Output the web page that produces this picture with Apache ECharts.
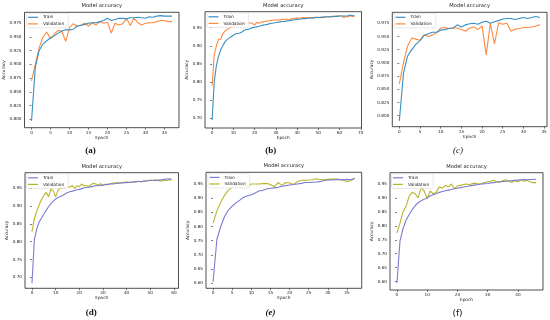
<!DOCTYPE html>
<html><head><meta charset="utf-8">
<script src="https://cdn.jsdelivr.net/npm/echarts@6/dist/echarts.min.js"></script>
<style>html,body{margin:0;padding:0;background:#fff}#c{width:550px;height:320px}</style>
</head><body><div id="c"></div>
<script>
// ---- data (epoch = array index) ----
const trainA=[0.797,0.895,0.925,0.937,0.943,0.948,0.952,0.957,0.961,0.963,0.963,0.964,0.970,0.971,0.973,0.975,0.976,0.976,0.978,0.980,0.984,0.980,0.982,0.984,0.984,0.983,0.985,0.985,0.986,0.985,0.984,0.987,0.986,0.988,0.989,0.988,0.988,0.988];
const valA=[0.870,0.900,0.930,0.950,0.959,0.947,0.955,0.962,0.960,0.942,0.967,0.974,0.970,0.972,0.975,0.970,0.976,0.972,0.978,0.975,0.977,0.957,0.975,0.972,0.974,0.984,0.971,0.984,0.976,0.972,0.975,0.976,0.976,0.978,0.980,0.980,0.978,0.978];
const trainB=[0.695,0.800,0.845,0.870,0.888,0.900,0.910,0.917,0.921,0.925,0.929,0.933,0.934,0.935,0.938,0.942,0.945,0.945,0.948,0.950,0.951,0.952,0.954,0.955,0.957,0.958,0.959,0.961,0.962,0.963,0.964,0.965,0.966,0.967,0.967,0.968,0.969,0.970,0.971,0.972,0.973,0.973,0.974,0.975,0.975,0.976,0.976,0.977,0.977,0.978,0.978,0.978,0.979,0.979,0.980,0.980,0.980,0.981,0.981,0.981,0.982,0.982,0.982,0.982,0.983,0.985,0.983,0.984];
const valB=[0.790,0.875,0.900,0.918,0.918,0.933,0.940,0.945,0.948,0.952,0.954,0.956,0.958,0.959,0.960,0.961,0.962,0.963,0.963,0.962,0.957,0.965,0.962,0.965,0.966,0.967,0.968,0.969,0.970,0.971,0.971,0.972,0.971,0.973,0.972,0.974,0.971,0.974,0.975,0.976,0.977,0.976,0.977,0.978,0.977,0.978,0.978,0.977,0.978,0.979,0.978,0.979,0.977,0.980,0.980,0.979,0.981,0.980,0.981,0.982,0.982,0.982,0.978,0.981,0.980,0.983,0.981,0.980];
const trainC=[0.790,0.880,0.913,0.925,0.935,0.942,0.952,0.955,0.958,0.958,0.962,0.963,0.965,0.966,0.972,0.968,0.972,0.974,0.975,0.973,0.977,0.979,0.975,0.978,0.980,0.983,0.984,0.984,0.982,0.984,0.986,0.984,0.986,0.988,0.986];
const valC=[0.860,0.900,0.932,0.947,0.945,0.943,0.953,0.950,0.953,0.957,0.966,0.967,0.965,0.966,0.966,0.963,0.960,0.966,0.968,0.963,0.970,0.915,0.975,0.936,0.976,0.973,0.975,0.960,0.964,0.965,0.967,0.967,0.968,0.970,0.972];
const trainD=[0.683,0.805,0.835,0.855,0.866,0.877,0.888,0.898,0.907,0.914,0.920,0.924,0.927,0.930,0.934,0.938,0.940,0.942,0.944,0.946,0.947,0.949,0.951,0.952,0.953,0.954,0.956,0.957,0.957,0.958,0.959,0.960,0.961,0.962,0.962,0.963,0.964,0.964,0.965,0.966,0.966,0.967,0.967,0.968,0.968,0.969,0.969,0.970,0.970,0.971,0.972,0.972,0.972,0.973,0.973,0.974,0.975,0.976,0.977,0.975];
const valD=[0.828,0.865,0.885,0.903,0.918,0.930,0.938,0.926,0.948,0.942,0.926,0.944,0.952,0.950,0.952,0.955,0.953,0.958,0.950,0.957,0.955,0.962,0.957,0.958,0.955,0.960,0.964,0.962,0.960,0.963,0.958,0.962,0.960,0.963,0.965,0.964,0.966,0.965,0.967,0.966,0.968,0.966,0.967,0.968,0.969,0.970,0.968,0.970,0.971,0.972,0.973,0.972,0.974,0.971,0.972,0.970,0.973,0.972,0.974,0.973];
const trainE=[0.605,0.755,0.800,0.835,0.858,0.872,0.883,0.893,0.903,0.908,0.912,0.918,0.925,0.928,0.932,0.935,0.936,0.938,0.942,0.944,0.946,0.948,0.950,0.952,0.955,0.955,0.956,0.957,0.958,0.962,0.964,0.964,0.965,0.965,0.965,0.966,0.965,0.970];
const valE=[0.812,0.855,0.885,0.910,0.928,0.938,0.942,0.945,0.945,0.942,0.950,0.950,0.950,0.951,0.952,0.948,0.940,0.955,0.945,0.955,0.953,0.948,0.958,0.963,0.963,0.964,0.965,0.968,0.965,0.965,0.966,0.967,0.967,0.966,0.963,0.958,0.962,0.968];
const trainF=[0.595,0.745,0.790,0.820,0.840,0.858,0.872,0.883,0.890,0.895,0.902,0.907,0.912,0.915,0.920,0.923,0.926,0.928,0.930,0.933,0.935,0.937,0.939,0.941,0.943,0.945,0.947,0.948,0.950,0.951,0.952,0.954,0.955,0.957,0.958,0.959,0.960,0.961,0.962,0.963,0.964,0.965,0.966,0.965,0.966,0.966,0.967];
const valF=[0.775,0.810,0.850,0.870,0.905,0.920,0.915,0.900,0.938,0.925,0.897,0.925,0.915,0.920,0.940,0.935,0.945,0.940,0.950,0.933,0.943,0.945,0.948,0.950,0.947,0.952,0.953,0.950,0.952,0.955,0.958,0.960,0.963,0.958,0.956,0.962,0.965,0.960,0.955,0.962,0.958,0.965,0.960,0.963,0.958,0.955,0.955];

// ---- tick labels ----
const xTicksA=[0,5,10,15,20,25,30,35];
const xTicksB=[0,10,20,30,40,50,60,70];
const xTicksC=[0,5,10,15,20,25,30,35];
const xTicksD=[0,10,20,30,40,50,60];
const xTicksE=[0,5,10,15,20,25,30,35];
const xTicksF=[0,10,20,30,40];
const yTicksA=[0.800,0.825,0.850,0.875,0.900,0.925,0.950,0.975];
const yTicksB=[0.70,0.75,0.80,0.85,0.90,0.95];
const yTicksC=[0.800,0.825,0.850,0.875,0.900,0.925,0.950,0.975];
const yTicksD=[0.70,0.75,0.80,0.85,0.90,0.95];
const yTicksE=[0.60,0.65,0.70,0.75,0.80,0.85,0.90,0.95];
const yTicksF=[0.60,0.65,0.70,0.75,0.80,0.85,0.90,0.95];
const captions=['(a)','(b)','(c)','(d)','(e)','(f)'];
const titleText='Model accuracy';
const seriesNames=['Train','Validation'];

// ---- layout / style ----
const C1=['#3a8fc2','#ff8a3d'], C2=['#7b7bd2','#b9b52a'];
const panels=[
 {id:'a',tr:trainA,va:valA,xt:xTicksA,yt:yTicksA,dec:3,box:[24.5,12.3,154.5,115.4],x:[-1.85,38.85],y:[0.7845,0.995],c:C1,lg:[26.5,13.3],yGap:18.5,cap:[90.5,146],capStyle:{fontWeight:'bold',fontFamily:'Liberation Serif'}},
 {id:'b',tr:trainB,va:valB,xt:xTicksB,yt:yTicksB,dec:2,box:[205,11.7,156.5,116.3],x:[-3.35,70.35],y:[0.673,0.994],c:C1,lg:[207,12.8],yGap:14,cap:[270.8,146],capStyle:{fontWeight:'bold',fontFamily:'Liberation Serif'}},
 {id:'c',tr:trainC,va:valC,xt:xTicksC,yt:yTicksC,dec:3,box:[392.3,12.3,154.7,114.4],x:[-1.7,35.7],y:[0.779,0.9958],c:C1,lg:[394,13.3],yGap:17.5,cap:[458,146],capStyle:{fontStyle:'italic',fontFamily:'Liberation Serif'}},
 {id:'d',tr:trainD,va:valD,xt:xTicksD,yt:yTicksD,dec:2,box:[25,172.7,153.5,115.6],x:[-2.95,61.95],y:[0.669,0.9938],c:C2,lg:[26.5,173.8],yGap:15,cap:[91.3,308.5],capStyle:{fontWeight:'bold',fontFamily:'Liberation Serif'}},
 {id:'e',tr:trainE,va:valE,xt:xTicksE,yt:yTicksE,dec:2,box:[206,172.3,155.7,116],x:[-1.85,38.85],y:[0.582,0.991],c:C2,lg:[208,173.4],yGap:14,cap:[270.5,308.5],capStyle:{fontStyle:'italic',fontWeight:'bold',fontFamily:'Liberation Serif'}},
 {id:'f',tr:trainF,va:valF,xt:xTicksF,yt:yTicksF,dec:2,box:[390,172.7,153,117.3],x:[-2.3,48.3],y:[0.570,0.9905],c:C2,lg:[391.5,173.8],yGap:15.5,cap:[457.5,309],capStyle:{fontFamily:'DejaVu Sans'}}
];

const FONT='DejaVu Sans';
const grid=[],xAxis=[],yAxis=[],series=[],legend=[],title=[];
panels.forEach((p,i)=>{
  const [l,t,w,h]=p.box;
  grid.push({left:l,top:t,width:w,height:h,show:true,borderColor:'#222',borderWidth:0.8,backgroundColor:'#fff'});
  const tick={show:true,length:2,inside:false,lineStyle:{color:'#222',width:0.6}};
  xAxis.push({type:'value',gridIndex:i,min:p.x[0],max:p.x[1],
    axisLine:{show:false},splitLine:{show:false},
    axisTick:Object.assign({customValues:p.xt},tick),
    axisLabel:{customValues:p.xt,fontSize:4.2,color:'#222',fontFamily:FONT,margin:3,formatter:v=>String(Math.round(v))},
    name:'Epoch',nameLocation:'middle',nameGap:7,nameTextStyle:{fontSize:4.3,color:'#222',fontFamily:FONT}});
  yAxis.push({type:'value',gridIndex:i,min:p.y[0],max:p.y[1],
    axisLine:{show:false},splitLine:{show:false},
    axisTick:Object.assign({customValues:p.yt},tick),
    axisLabel:{customValues:p.yt,fontSize:4.2,color:'#222',fontFamily:FONT,margin:3,formatter:v=>v.toFixed(p.dec)},
    name:'Accuracy',nameLocation:'middle',nameRotate:90,nameGap:p.yGap,nameTextStyle:{fontSize:4.3,color:'#222',fontFamily:FONT}});
  const nT=seriesNames[0]+' '+p.id, nV=seriesNames[1]+' '+p.id;
  series.push({type:'line',name:nT,xAxisIndex:i,yAxisIndex:i,data:p.tr.map((v,j)=>[j,v]),symbol:'none',color:p.c[0],lineStyle:{width:1.1,color:p.c[0]},z:3});
  series.push({type:'line',name:nV,xAxisIndex:i,yAxisIndex:i,data:p.va.map((v,j)=>[j,v]),symbol:'none',color:p.c[1],lineStyle:{width:1.1,color:p.c[1]},z:2});
  legend.push({data:[{name:nT,icon:'rect'},{name:nV,icon:'rect'}],left:p.lg[0],top:p.lg[1],orient:'vertical',itemWidth:10,itemHeight:1.2,itemGap:2.6,
    padding:[2,4,2,1.5],borderColor:'#d0d0d0',borderWidth:0.5,borderRadius:1.5,backgroundColor:'rgba(255,255,255,0.85)',
    textStyle:{fontSize:4.3,color:'#222',fontFamily:FONT},formatter:n=>n.split(' ')[0],selectedMode:false});
  title.push({text:titleText,left:l+w/2,top:t-9,textAlign:'center',padding:0,textStyle:{fontSize:5.2,fontWeight:'normal',color:'#222',fontFamily:FONT}});
  title.push({text:captions[i],left:p.cap[0],top:p.cap[1],textAlign:'center',padding:0,textStyle:Object.assign({fontSize:9,color:'#111',fontWeight:'normal'},p.capStyle)});
});

const chart=echarts.init(document.getElementById('c'),null,{renderer:'canvas'});
chart.setOption({animation:false,backgroundColor:'#fff',grid,xAxis,yAxis,series,legend,title});
</script></body></html>
